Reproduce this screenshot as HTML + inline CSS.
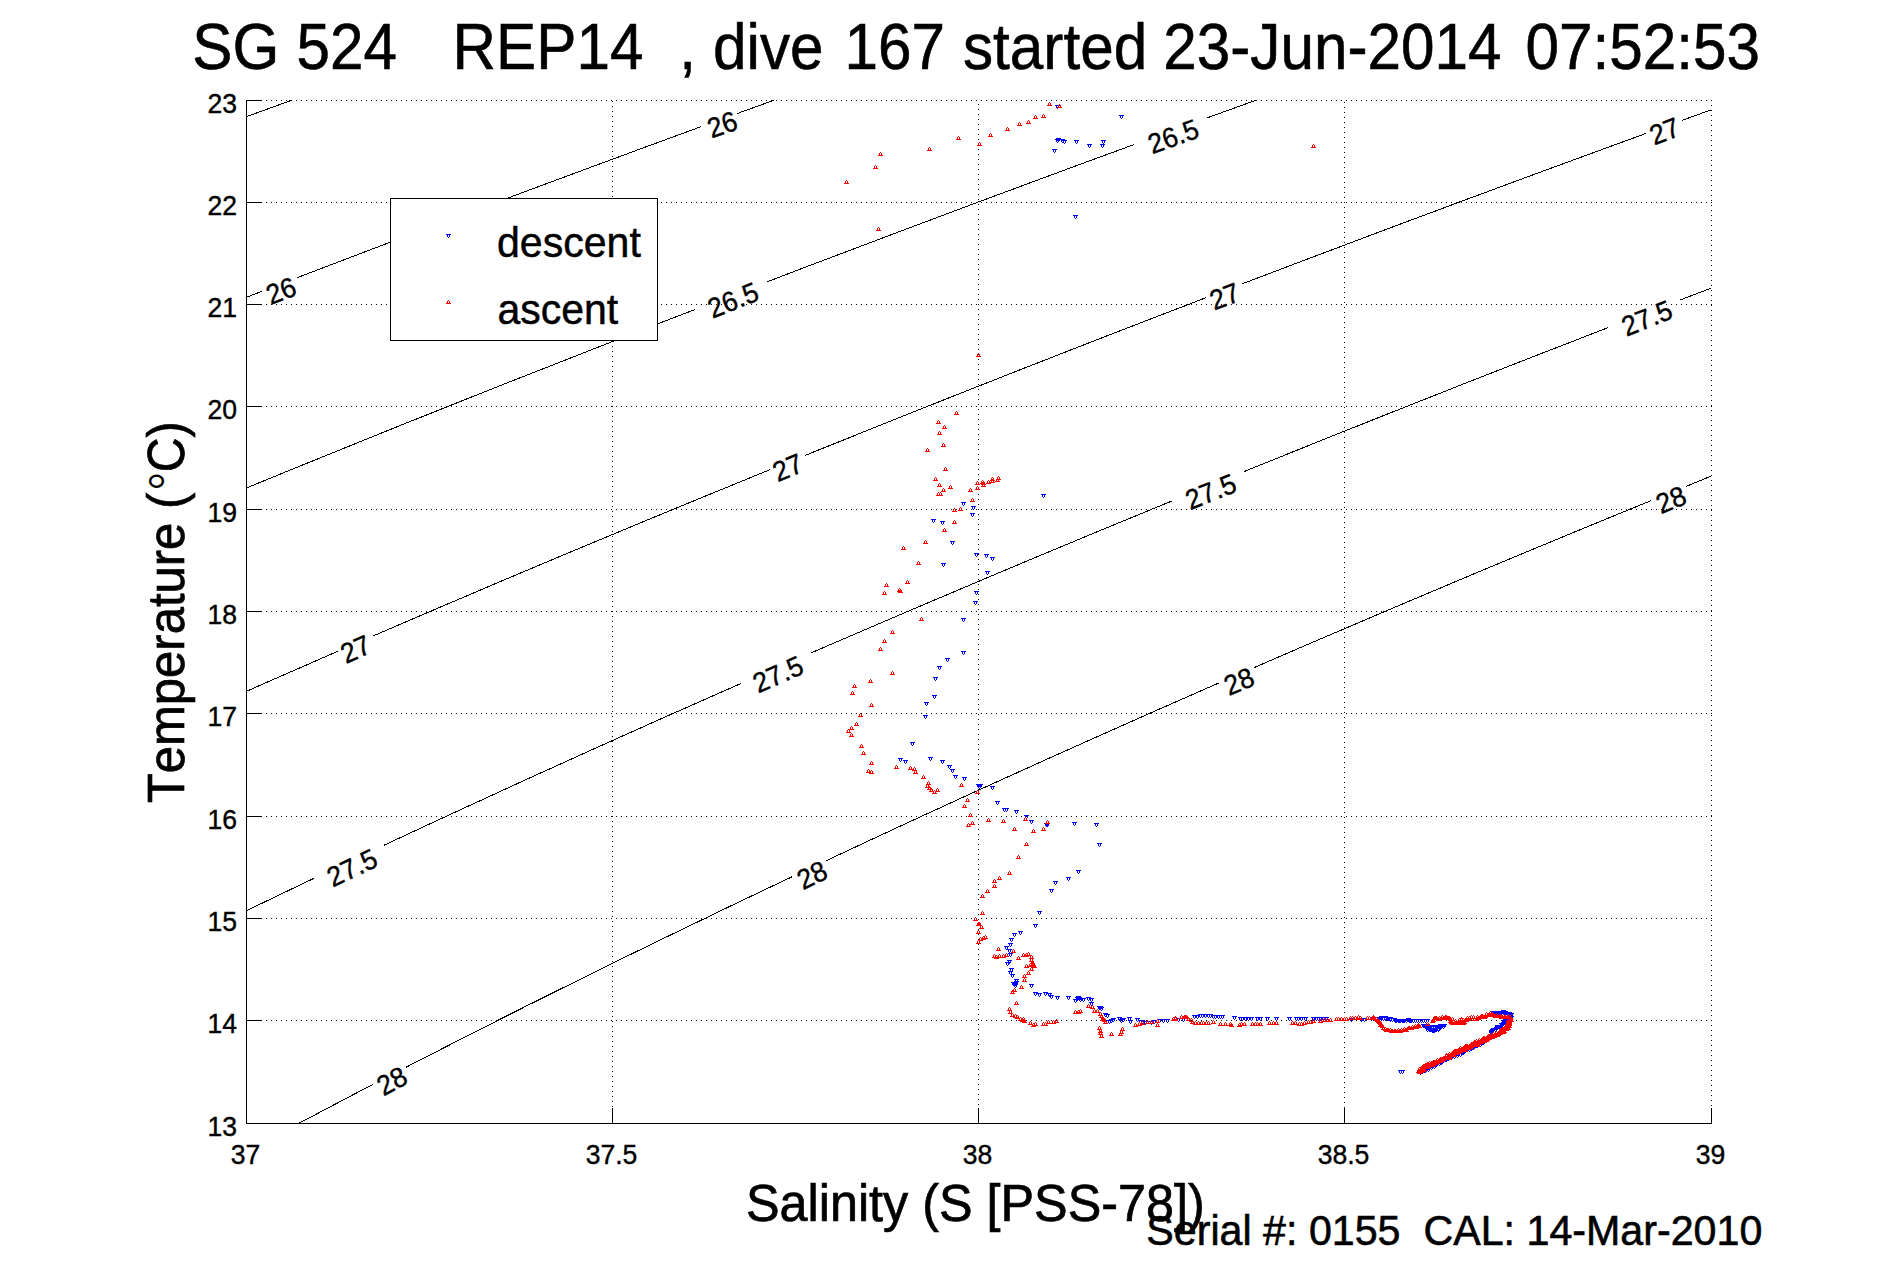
<!DOCTYPE html><html><head><meta charset="utf-8"><title>SG 524 REP14 dive 167</title>
<style>html,body{margin:0;padding:0;background:#fff;overflow:hidden}svg{display:block}text{font-family:"Liberation Sans",sans-serif;fill:#000;font-kerning:none;font-variant-ligatures:none}</style></head><body>
<svg width="1891" height="1262" viewBox="0 0 1891 1262">
<rect width="1891" height="1262" fill="#fff"/>
<defs>
<g id="d" shape-rendering="crispEdges" fill="#00f"><rect width="5" height="1"/><rect x="1" y="1" width="1" height="2"/><rect x="3" y="1" width="1" height="2"/><rect x="2" y="3" width="1" height="1"/></g>
<g id="u" shape-rendering="crispEdges" fill="#f00"><rect y="3" width="5" height="1"/><rect x="1" y="1" width="1" height="2"/><rect x="3" y="1" width="1" height="2"/><rect x="2" y="0" width="1" height="1"/></g>
</defs>
<g stroke="#000" stroke-width="1" shape-rendering="crispEdges" fill="none">
<path id="hg" d="M246 0.5h1m4 0h1m4 0h1m4 0h1m4 0h1m4 0h1m4 0h1m4 0h1m4 0h1m4 0h1m4 0h1m4 0h1m4 0h1m4 0h1m4 0h1m4 0h1m4 0h1m4 0h1m4 0h1m4 0h1m4 0h1m4 0h1m4 0h1m4 0h1m4 0h1m4 0h1m4 0h1m4 0h1m4 0h1m4 0h1m4 0h1m4 0h1m4 0h1m4 0h1m4 0h1m4 0h1m4 0h1m4 0h1m4 0h1m4 0h1m4 0h1m4 0h1m4 0h1m4 0h1m4 0h1m4 0h1m4 0h1m4 0h1m4 0h1m4 0h1m4 0h1m4 0h1m4 0h1m4 0h1m4 0h1m4 0h1m4 0h1m4 0h1m4 0h1m4 0h1m4 0h1m4 0h1m4 0h1m4 0h1m4 0h1m4 0h1m4 0h1m4 0h1m4 0h1m4 0h1m4 0h1m4 0h1m4 0h1m4 0h1m4 0h1m4 0h1m4 0h1m4 0h1m4 0h1m4 0h1m4 0h1m4 0h1m4 0h1m4 0h1m4 0h1m4 0h1m4 0h1m4 0h1m4 0h1m4 0h1m4 0h1m4 0h1m4 0h1m4 0h1m4 0h1m4 0h1m4 0h1m4 0h1m4 0h1m4 0h1m4 0h1m4 0h1m4 0h1m4 0h1m4 0h1m4 0h1m4 0h1m4 0h1m4 0h1m4 0h1m4 0h1m4 0h1m4 0h1m4 0h1m4 0h1m4 0h1m4 0h1m4 0h1m4 0h1m4 0h1m4 0h1m4 0h1m4 0h1m4 0h1m4 0h1m4 0h1m4 0h1m4 0h1m4 0h1m4 0h1m4 0h1m4 0h1m4 0h1m4 0h1m4 0h1m4 0h1m4 0h1m4 0h1m4 0h1m4 0h1m4 0h1m4 0h1m4 0h1m4 0h1m4 0h1m4 0h1m4 0h1m4 0h1m4 0h1m4 0h1m4 0h1m4 0h1m4 0h1m4 0h1m4 0h1m4 0h1m4 0h1m4 0h1m4 0h1m4 0h1m4 0h1m4 0h1m4 0h1m4 0h1m4 0h1m4 0h1m4 0h1m4 0h1m4 0h1m4 0h1m4 0h1m4 0h1m4 0h1m4 0h1m4 0h1m4 0h1m4 0h1m4 0h1m4 0h1m4 0h1m4 0h1m4 0h1m4 0h1m4 0h1m4 0h1m4 0h1m4 0h1m4 0h1m4 0h1m4 0h1m4 0h1m4 0h1m4 0h1m4 0h1m4 0h1m4 0h1m4 0h1m4 0h1m4 0h1m4 0h1m4 0h1m4 0h1m4 0h1m4 0h1m4 0h1m4 0h1m4 0h1m4 0h1m4 0h1m4 0h1m4 0h1m4 0h1m4 0h1m4 0h1m4 0h1m4 0h1m4 0h1m4 0h1m4 0h1m4 0h1m4 0h1m4 0h1m4 0h1m4 0h1m4 0h1m4 0h1m4 0h1m4 0h1m4 0h1m4 0h1m4 0h1m4 0h1m4 0h1m4 0h1m4 0h1m4 0h1m4 0h1m4 0h1m4 0h1m4 0h1m4 0h1m4 0h1m4 0h1m4 0h1m4 0h1m4 0h1m4 0h1m4 0h1m4 0h1m4 0h1m4 0h1m4 0h1m4 0h1m4 0h1m4 0h1m4 0h1m4 0h1m4 0h1m4 0h1m4 0h1m4 0h1m4 0h1m4 0h1m4 0h1m4 0h1m4 0h1m4 0h1m4 0h1m4 0h1m4 0h1m4 0h1m4 0h1m4 0h1m4 0h1m4 0h1m4 0h1m4 0h1m4 0h1m4 0h1m4 0h1m4 0h1m4 0h1m4 0h1m4 0h1m4 0h1m4 0h1m4 0h1m4 0h1m4 0h1m4 0h1m4 0h1m4 0h1m4 0h1m4 0h1m4 0" transform="translate(0 100)"/>
<use href="#hg" y="920"/>
<use href="#hg" y="818"/>
<use href="#hg" y="716"/>
<use href="#hg" y="613"/>
<use href="#hg" y="511"/>
<use href="#hg" y="409"/>
<use href="#hg" y="306"/>
<use href="#hg" y="204"/>
<use href="#hg" y="102"/>
<path id="vg" d="M0.5 0v1m0 4v1m0 4v1m0 4v1m0 4v1m0 4v1m0 4v1m0 4v1m0 4v1m0 4v1m0 4v1m0 4v1m0 4v1m0 4v1m0 4v1m0 4v1m0 4v1m0 4v1m0 4v1m0 4v1m0 4v1m0 4v1m0 4v1m0 4v1m0 4v1m0 4v1m0 4v1m0 4v1m0 4v1m0 4v1m0 4v1m0 4v1m0 4v1m0 4v1m0 4v1m0 4v1m0 4v1m0 4v1m0 4v1m0 4v1m0 4v1m0 4v1m0 4v1m0 4v1m0 4v1m0 4v1m0 4v1m0 4v1m0 4v1m0 4v1m0 4v1m0 4v1m0 4v1m0 4v1m0 4v1m0 4v1m0 4v1m0 4v1m0 4v1m0 4v1m0 4v1m0 4v1m0 4v1m0 4v1m0 4v1m0 4v1m0 4v1m0 4v1m0 4v1m0 4v1m0 4v1m0 4v1m0 4v1m0 4v1m0 4v1m0 4v1m0 4v1m0 4v1m0 4v1m0 4v1m0 4v1m0 4v1m0 4v1m0 4v1m0 4v1m0 4v1m0 4v1m0 4v1m0 4v1m0 4v1m0 4v1m0 4v1m0 4v1m0 4v1m0 4v1m0 4v1m0 4v1m0 4v1m0 4v1m0 4v1m0 4v1m0 4v1m0 4v1m0 4v1m0 4v1m0 4v1m0 4v1m0 4v1m0 4v1m0 4v1m0 4v1m0 4v1m0 4v1m0 4v1m0 4v1m0 4v1m0 4v1m0 4v1m0 4v1m0 4v1m0 4v1m0 4v1m0 4v1m0 4v1m0 4v1m0 4v1m0 4v1m0 4v1m0 4v1m0 4v1m0 4v1m0 4v1m0 4v1m0 4v1m0 4v1m0 4v1m0 4v1m0 4v1m0 4v1m0 4v1m0 4v1m0 4v1m0 4v1m0 4v1m0 4v1m0 4v1m0 4v1m0 4v1m0 4v1m0 4v1m0 4v1m0 4v1m0 4v1m0 4v1m0 4v1m0 4v1m0 4v1m0 4v1m0 4v1m0 4v1m0 4v1m0 4v1m0 4v1m0 4v1m0 4v1m0 4v1m0 4v1m0 4v1m0 4v1m0 4v1m0 4v1m0 4v1m0 4v1m0 4v1m0 4v1m0 4v1m0 4v1m0 4v1m0 4v1m0 4v1m0 4v1m0 4v1m0 4v1m0 4v1m0 4v1m0 4v1m0 4v1m0 4v1m0 4v1m0 4v1m0 4v1m0 4v1m0 4v1m0 4v1m0 4v1m0 4v1m0 4v1m0 4v1m0 4v1m0 4v1m0 4v1m0 4v1m0 4" transform="translate(612 101)"/>
<use href="#vg" x="366" y="3"/>
<use href="#vg" x="732" y="1"/>
<use href="#vg" x="1099" y="-1"/>
<line x1="246.5" y1="100" x2="246.5" y2="1124"/><line x1="246" y1="1123.5" x2="1712" y2="1123.5"/>
<line x1="246" y1="1123.5" x2="262" y2="1123.5"/>
<line x1="246" y1="1020.5" x2="262" y2="1020.5"/>
<line x1="246" y1="918.5" x2="262" y2="918.5"/>
<line x1="246" y1="816.5" x2="262" y2="816.5"/>
<line x1="246" y1="713.5" x2="262" y2="713.5"/>
<line x1="246" y1="611.5" x2="262" y2="611.5"/>
<line x1="246" y1="509.5" x2="262" y2="509.5"/>
<line x1="246" y1="406.5" x2="262" y2="406.5"/>
<line x1="246" y1="304.5" x2="262" y2="304.5"/>
<line x1="246" y1="202.5" x2="262" y2="202.5"/>
<line x1="246" y1="100.5" x2="262" y2="100.5"/>
<line x1="246.5" y1="1108" x2="246.5" y2="1124"/>
<line x1="612.5" y1="1108" x2="612.5" y2="1124"/>
<line x1="978.5" y1="1108" x2="978.5" y2="1124"/>
<line x1="1344.5" y1="1108" x2="1344.5" y2="1124"/>
<line x1="1711.5" y1="1108" x2="1711.5" y2="1124"/>
</g>
<g stroke="#000" stroke-width="1" fill="none" shape-rendering="crispEdges">
<path d="M246.3 116.7 L268.9 108.5 L291.5 100.3"/>
<path d="M246.3 297.3 L261.9 291.3"/>
<path d="M297.1 277.7 L317.3 270.0 L337.5 262.3 L357.7 254.6 L377.9 246.9 L398.1 239.3 L418.3 231.7 L438.5 224.0 L458.7 216.5 L478.9 208.9 L499.1 201.3 L519.2 193.8 L539.4 186.3 L559.6 178.8 L579.8 171.3 L600.0 163.8 L620.2 156.4 L640.4 148.9 L660.6 141.5 L680.8 134.1 L701.0 126.7"/>
<path d="M737.0 113.6 L773.7 100.3"/>
<path d="M246.3 488.0 L266.7 479.7 L287.1 471.3 L307.5 463.0 L327.9 454.8 L348.3 446.5 L368.6 438.3 L389.0 430.0 L409.4 421.8 L429.8 413.7 L450.2 405.5 L470.6 397.4 L491.0 389.3 L511.4 381.2 L531.8 373.2 L552.2 365.2 L572.6 357.2 L592.9 349.2 L613.3 341.2 L633.7 333.3 L654.1 325.3 L674.5 317.4 L694.9 309.6"/>
<path d="M767.2 281.8 L787.6 274.0 L807.9 266.2 L828.3 258.5 L848.7 250.8 L869.1 243.1 L889.4 235.4 L909.8 227.7 L930.2 220.1 L950.6 212.4 L970.9 204.8 L991.3 197.2 L1011.7 189.7 L1032.0 182.1 L1052.4 174.6 L1072.8 167.0 L1093.2 159.5 L1113.5 152.1 L1133.9 144.6"/>
<path d="M1207.3 117.8 L1231.5 109.1 L1255.7 100.3"/>
<path d="M246.3 691.4 L269.1 681.3 L292.0 671.3 L314.9 661.3 L337.7 651.3"/>
<path d="M373.3 635.9 L394.2 626.9 L415.0 617.9 L435.9 609.0 L456.8 600.1 L477.7 591.2 L498.5 582.3 L519.4 573.5 L540.3 564.7 L561.2 555.9 L582.0 547.2 L602.9 538.5 L623.8 529.8 L644.7 521.1 L665.5 512.5 L686.4 503.9 L707.3 495.3 L728.2 486.8 L749.0 478.2 L769.9 469.7"/>
<path d="M805.2 455.4 L825.2 447.3 L845.3 439.3 L865.3 431.2 L885.4 423.2 L905.4 415.2 L925.4 407.2 L945.5 399.2 L965.5 391.3 L985.6 383.4 L1005.6 375.5 L1025.6 367.6 L1045.7 359.8 L1065.7 351.9 L1085.8 344.1 L1105.8 336.3 L1125.8 328.6 L1145.9 320.8 L1165.9 313.1 L1186.0 305.4 L1206.0 297.7"/>
<path d="M1242.2 283.8 L1262.4 276.2 L1282.6 268.5 L1302.8 260.8 L1323.0 253.2 L1343.2 245.6 L1363.3 238.0 L1383.5 230.4 L1403.7 222.8 L1423.9 215.3 L1444.1 207.8 L1464.3 200.2 L1484.5 192.8 L1504.7 185.3 L1524.9 177.8 L1545.0 170.4 L1565.2 163.0 L1585.4 155.6 L1605.6 148.2 L1625.8 140.8 L1646.0 133.4"/>
<path d="M1682.2 120.3 L1711.3 109.8"/>
<path d="M246.3 910.8 L268.9 899.9 L291.4 889.1 L314.0 878.3"/>
<path d="M384.1 845.2 L405.1 835.4 L426.1 825.6 L447.1 815.9 L468.1 806.2 L489.1 796.6 L510.1 786.9 L531.1 777.3 L552.1 767.8 L573.0 758.3 L594.0 748.8 L615.0 739.4 L636.0 730.0 L657.0 720.6 L678.0 711.3 L699.0 702.0 L720.0 692.7 L741.0 683.5"/>
<path d="M811.0 653.0 L831.0 644.3 L851.1 635.7 L871.1 627.1 L891.2 618.5 L911.2 609.9 L931.3 601.4 L951.4 592.9 L971.4 584.4 L991.5 575.9 L1011.5 567.5 L1031.5 559.1 L1051.6 550.7 L1071.7 542.4 L1091.7 534.0 L1111.8 525.7 L1131.8 517.5 L1151.9 509.2 L1171.9 501.0"/>
<path d="M1244.0 471.6 L1264.2 463.4 L1284.4 455.3 L1304.7 447.1 L1324.9 439.0 L1345.1 430.9 L1365.3 422.9 L1385.5 414.8 L1405.7 406.8 L1426.0 398.8 L1446.2 390.8 L1466.4 382.8 L1486.6 374.9 L1506.8 367.0 L1527.0 359.1 L1547.2 351.2 L1567.5 343.4 L1587.7 335.5 L1607.9 327.7"/>
<path d="M1680.0 300.0 L1711.3 288.1"/>
<path d="M298.9 1123.3 L323.6 1110.3 L348.2 1097.3 L372.9 1084.4"/>
<path d="M405.9 1067.3 L426.2 1056.9 L446.5 1046.5 L466.9 1036.1 L487.2 1025.8 L507.5 1015.5 L527.8 1005.3 L548.1 995.2 L568.5 985.1 L588.8 975.0 L609.1 965.0 L629.4 955.0 L649.8 945.1 L670.1 935.2 L690.4 925.4 L710.7 915.6 L731.0 905.8 L751.4 896.1 L771.7 886.4 L792.0 876.8"/>
<path d="M826.0 860.8 L846.7 851.1 L867.4 841.4 L888.1 831.8 L908.7 822.2 L929.4 812.7 L950.1 803.2 L970.8 793.7 L991.5 784.3 L1012.2 774.9 L1032.8 765.6 L1053.5 756.2 L1074.2 747.0 L1094.9 737.7 L1115.6 728.5 L1136.3 719.3 L1156.9 710.2 L1177.6 701.1 L1198.3 692.0 L1219.0 682.9"/>
<path d="M1254.2 667.6 L1275.1 658.5 L1295.9 649.5 L1316.8 640.5 L1337.7 631.6 L1358.6 622.7 L1379.4 613.8 L1400.3 604.9 L1421.2 596.1 L1442.1 587.3 L1462.9 578.5 L1483.8 569.7 L1504.7 561.0 L1525.6 552.3 L1546.4 543.7 L1567.3 535.0 L1588.2 526.4 L1609.1 517.8 L1629.9 509.3 L1650.8 500.7"/>
<path d="M1686.0 486.4 L1711.3 476.1"/>
</g>
<text transform="translate(280.9 290.6) rotate(-21.1) scale(0.950 1)" font-size="28.0" text-anchor="middle" y="9.8" stroke="#000" stroke-width="0.40" xml:space="preserve">26</text>
<text transform="translate(722.2 124.4) rotate(-19.4) scale(0.950 1)" font-size="28.0" text-anchor="middle" y="9.8" stroke="#000" stroke-width="0.40" xml:space="preserve">26</text>
<text transform="translate(733.0 300.0) rotate(-21.6) scale(0.950 1)" font-size="28.0" text-anchor="middle" y="9.8" stroke="#000" stroke-width="0.40" xml:space="preserve">26.5</text>
<text transform="translate(1173.3 136.2) rotate(-19.9) scale(0.950 1)" font-size="28.0" text-anchor="middle" y="9.8" stroke="#000" stroke-width="0.40" xml:space="preserve">26.5</text>
<text transform="translate(355.5 649.0) rotate(-23.9) scale(0.950 1)" font-size="28.0" text-anchor="middle" y="9.8" stroke="#000" stroke-width="0.40" xml:space="preserve">27</text>
<text transform="translate(787.7 467.5) rotate(-22.6) scale(0.950 1)" font-size="28.0" text-anchor="middle" y="9.8" stroke="#000" stroke-width="0.40" xml:space="preserve">27</text>
<text transform="translate(1224.6 296.2) rotate(-20.5) scale(0.950 1)" font-size="28.0" text-anchor="middle" y="9.8" stroke="#000" stroke-width="0.40" xml:space="preserve">27</text>
<text transform="translate(1664.6 131.1) rotate(-20.9) scale(0.950 1)" font-size="28.0" text-anchor="middle" y="9.8" stroke="#000" stroke-width="0.40" xml:space="preserve">27</text>
<text transform="translate(352.0 867.7) rotate(-25.2) scale(0.950 1)" font-size="28.0" text-anchor="middle" y="9.8" stroke="#000" stroke-width="0.40" xml:space="preserve">27.5</text>
<text transform="translate(778.0 674.2) rotate(-23.7) scale(0.950 1)" font-size="28.0" text-anchor="middle" y="9.8" stroke="#000" stroke-width="0.40" xml:space="preserve">27.5</text>
<text transform="translate(1210.8 491.5) rotate(-21.6) scale(0.950 1)" font-size="28.0" text-anchor="middle" y="9.8" stroke="#000" stroke-width="0.40" xml:space="preserve">27.5</text>
<text transform="translate(1646.9 318.1) rotate(-21.8) scale(0.950 1)" font-size="28.0" text-anchor="middle" y="9.8" stroke="#000" stroke-width="0.40" xml:space="preserve">27.5</text>
<text transform="translate(391.9 1080.9) rotate(-28.3) scale(0.950 1)" font-size="28.0" text-anchor="middle" y="9.8" stroke="#000" stroke-width="0.40" xml:space="preserve">28</text>
<text transform="translate(811.9 874.9) rotate(-25.9) scale(0.950 1)" font-size="28.0" text-anchor="middle" y="9.8" stroke="#000" stroke-width="0.40" xml:space="preserve">28</text>
<text transform="translate(1238.9 681.2) rotate(-22.5) scale(0.950 1)" font-size="28.0" text-anchor="middle" y="9.8" stroke="#000" stroke-width="0.40" xml:space="preserve">28</text>
<text transform="translate(1671.0 499.6) rotate(-22.5) scale(0.950 1)" font-size="28.0" text-anchor="middle" y="9.8" stroke="#000" stroke-width="0.40" xml:space="preserve">28</text>
<g><use href="#d" x="1055" y="105"/><use href="#d" x="1119" y="115"/><use href="#d" x="1052" y="149"/><use href="#d" x="1056" y="138"/><use href="#d" x="1055" y="139"/><use href="#d" x="1060" y="139"/><use href="#d" x="1062" y="140"/><use href="#d" x="1074" y="140"/><use href="#d" x="1087" y="144"/><use href="#d" x="1100" y="144"/><use href="#d" x="1101" y="140"/><use href="#d" x="1073" y="215"/><use href="#d" x="1041" y="494"/><use href="#d" x="961" y="502"/><use href="#d" x="971" y="506"/><use href="#d" x="970" y="513"/><use href="#d" x="931" y="519"/><use href="#d" x="940" y="521"/><use href="#d" x="950" y="541"/><use href="#d" x="974" y="553"/><use href="#d" x="984" y="554"/><use href="#d" x="990" y="557"/><use href="#d" x="941" y="563"/><use href="#d" x="985" y="571"/><use href="#d" x="974" y="591"/><use href="#d" x="973" y="601"/><use href="#d" x="961" y="618"/><use href="#d" x="961" y="651"/><use href="#d" x="945" y="658"/><use href="#d" x="937" y="666"/><use href="#d" x="933" y="677"/><use href="#d" x="932" y="695"/><use href="#d" x="924" y="702"/><use href="#d" x="923" y="715"/><use href="#d" x="910" y="742"/><use href="#d" x="898" y="758"/><use href="#d" x="903" y="760"/><use href="#d" x="928" y="757"/><use href="#d" x="940" y="760"/><use href="#d" x="947" y="765"/><use href="#d" x="950" y="769"/><use href="#d" x="953" y="775"/><use href="#d" x="962" y="777"/><use href="#d" x="977" y="785"/><use href="#d" x="976" y="784"/><use href="#d" x="978" y="784"/><use href="#d" x="990" y="786"/><use href="#d" x="995" y="801"/><use href="#d" x="1002" y="808"/><use href="#d" x="1004" y="808"/><use href="#d" x="1014" y="810"/><use href="#d" x="1024" y="815"/><use href="#d" x="1029" y="820"/><use href="#d" x="1045" y="823"/><use href="#d" x="1044" y="823"/><use href="#d" x="1072" y="822"/><use href="#d" x="1094" y="823"/><use href="#d" x="1097" y="843"/><use href="#d" x="1076" y="870"/><use href="#d" x="1066" y="877"/><use href="#d" x="1053" y="881"/><use href="#d" x="1049" y="889"/><use href="#d" x="1037" y="911"/><use href="#d" x="1033" y="924"/><use href="#d" x="1018" y="931"/><use href="#d" x="1012" y="933"/><use href="#d" x="1009" y="938"/><use href="#d" x="1008" y="943"/><use href="#d" x="1004" y="946"/><use href="#d" x="1007" y="949"/><use href="#d" x="1008" y="953"/><use href="#d" x="1007" y="960"/><use href="#d" x="1005" y="962"/><use href="#d" x="1009" y="968"/><use href="#d" x="1008" y="971"/><use href="#d" x="1010" y="974"/><use href="#d" x="1014" y="979"/><use href="#d" x="1012" y="983"/><use href="#d" x="1011" y="982"/><use href="#d" x="1013" y="984"/><use href="#d" x="1014" y="981"/><use href="#d" x="1029" y="984"/><use href="#d" x="1033" y="992"/><use href="#d" x="1037" y="993"/><use href="#d" x="1043" y="992"/><use href="#d" x="1047" y="993"/><use href="#d" x="1049" y="995"/><use href="#d" x="1055" y="996"/><use href="#d" x="1066" y="996"/><use href="#d" x="1073" y="999"/><use href="#d" x="1076" y="996"/><use href="#d" x="1075" y="997"/><use href="#d" x="1077" y="997"/><use href="#d" x="1078" y="998"/><use href="#d" x="1081" y="998"/><use href="#d" x="1086" y="997"/><use href="#d" x="1089" y="998"/><use href="#d" x="1089" y="1002"/><use href="#d" x="1097" y="1006"/><use href="#d" x="1098" y="1006"/><use href="#d" x="1099" y="1007"/><use href="#d" x="1103" y="1013"/><use href="#d" x="1105" y="1014"/><use href="#d" x="1107" y="1020"/><use href="#d" x="1109" y="1019"/><use href="#d" x="1111" y="1018"/><use href="#d" x="1117" y="1017"/><use href="#d" x="1119" y="1019"/><use href="#d" x="1121" y="1018"/><use href="#d" x="1127" y="1017"/><use href="#d" x="1128" y="1020"/><use href="#d" x="1135" y="1018"/><use href="#d" x="1138" y="1020"/><use href="#d" x="1140" y="1020"/><use href="#d" x="1143" y="1021"/><use href="#d" x="1149" y="1021"/><use href="#d" x="1152" y="1020"/><use href="#d" x="1157" y="1019"/><use href="#d" x="1161" y="1019"/><use href="#d" x="1165" y="1019"/><use href="#d" x="1176" y="1018"/><use href="#d" x="1181" y="1018"/><use href="#d" x="1192" y="1015"/><use href="#d" x="1195" y="1015"/><use href="#d" x="1198" y="1014"/><use href="#d" x="1200" y="1014"/><use href="#d" x="1203" y="1014"/><use href="#d" x="1206" y="1014"/><use href="#d" x="1208" y="1014"/><use href="#d" x="1211" y="1015"/><use href="#d" x="1213" y="1015"/><use href="#d" x="1216" y="1015"/><use href="#d" x="1218" y="1015"/><use href="#d" x="1220" y="1015"/><use href="#d" x="1232" y="1016"/><use href="#d" x="1238" y="1017"/><use href="#d" x="1240" y="1017"/><use href="#d" x="1243" y="1017"/><use href="#d" x="1246" y="1017"/><use href="#d" x="1249" y="1017"/><use href="#d" x="1255" y="1017"/><use href="#d" x="1258" y="1017"/><use href="#d" x="1265" y="1017"/><use href="#d" x="1274" y="1017"/><use href="#d" x="1287" y="1017"/><use href="#d" x="1294" y="1017"/><use href="#d" x="1296" y="1017"/><use href="#d" x="1299" y="1017"/><use href="#d" x="1303" y="1017"/><use href="#d" x="1311" y="1017"/><use href="#d" x="1314" y="1017"/><use href="#d" x="1316" y="1017"/><use href="#d" x="1318" y="1017"/><use href="#d" x="1321" y="1017"/><use href="#d" x="1324" y="1017"/><use href="#d" x="1349" y="1018"/><use href="#d" x="1359" y="1018"/><use href="#d" x="1362" y="1018"/><use href="#d" x="1371" y="1017"/><use href="#d" x="1378" y="1018"/><use href="#d" x="1383" y="1017"/><use href="#d" x="1385" y="1017"/><use href="#d" x="1388" y="1018"/><use href="#d" x="1393" y="1019"/><use href="#d" x="1397" y="1019"/><use href="#d" x="1401" y="1019"/><use href="#d" x="1404" y="1019"/><use href="#d" x="1407" y="1019"/><use href="#d" x="1398" y="1070"/><use href="#d" x="1400" y="1070"/><use href="#d" x="1377" y="1017"/><use href="#d" x="1379" y="1016"/><use href="#d" x="1381" y="1017"/><use href="#d" x="1383" y="1016"/><use href="#d" x="1386" y="1017"/><use href="#d" x="1388" y="1017"/><use href="#d" x="1390" y="1018"/><use href="#d" x="1392" y="1018"/><use href="#d" x="1394" y="1019"/><use href="#d" x="1396" y="1019"/><use href="#d" x="1398" y="1019"/><use href="#d" x="1400" y="1019"/><use href="#d" x="1402" y="1019"/><use href="#d" x="1406" y="1018"/><use href="#d" x="1408" y="1019"/><use href="#d" x="1409" y="1019"/><use href="#d" x="1411" y="1019"/><use href="#d" x="1413" y="1019"/><use href="#d" x="1415" y="1019"/><use href="#d" x="1417" y="1019"/><use href="#d" x="1419" y="1019"/><use href="#d" x="1421" y="1019"/><use href="#d" x="1423" y="1019"/><use href="#d" x="1425" y="1019"/><use href="#d" x="1421" y="1024"/><use href="#d" x="1422" y="1024"/><use href="#d" x="1423" y="1024"/><use href="#d" x="1424" y="1025"/><use href="#d" x="1425" y="1024"/><use href="#d" x="1426" y="1025"/><use href="#d" x="1428" y="1026"/><use href="#d" x="1428" y="1025"/><use href="#d" x="1430" y="1026"/><use href="#d" x="1430" y="1025"/><use href="#d" x="1432" y="1026"/><use href="#d" x="1434" y="1026"/><use href="#d" x="1435" y="1026"/><use href="#d" x="1435" y="1025"/><use href="#d" x="1437" y="1025"/><use href="#d" x="1438" y="1026"/><use href="#d" x="1438" y="1024"/><use href="#d" x="1439" y="1024"/><use href="#d" x="1441" y="1025"/><use href="#d" x="1442" y="1024"/><use href="#d" x="1425" y="1028"/><use href="#d" x="1426" y="1027"/><use href="#d" x="1427" y="1028"/><use href="#d" x="1428" y="1028"/><use href="#d" x="1430" y="1028"/><use href="#d" x="1430" y="1029"/><use href="#d" x="1431" y="1029"/><use href="#d" x="1432" y="1029"/><use href="#d" x="1433" y="1028"/><use href="#d" x="1434" y="1028"/><use href="#d" x="1436" y="1028"/><use href="#d" x="1436" y="1027"/><use href="#d" x="1490" y="1011"/><use href="#d" x="1492" y="1011"/><use href="#d" x="1493" y="1011"/><use href="#d" x="1494" y="1011"/><use href="#d" x="1496" y="1011"/><use href="#d" x="1497" y="1011"/><use href="#d" x="1498" y="1011"/><use href="#d" x="1499" y="1011"/><use href="#d" x="1501" y="1010"/><use href="#d" x="1502" y="1011"/><use href="#d" x="1503" y="1011"/><use href="#d" x="1505" y="1012"/><use href="#d" x="1506" y="1012"/><use href="#d" x="1507" y="1012"/><use href="#d" x="1508" y="1013"/><use href="#d" x="1509" y="1013"/><use href="#d" x="1509" y="1016"/><use href="#d" x="1507" y="1015"/><use href="#d" x="1507" y="1017"/><use href="#d" x="1505" y="1018"/><use href="#d" x="1505" y="1019"/><use href="#d" x="1503" y="1019"/><use href="#d" x="1502" y="1020"/><use href="#d" x="1502" y="1021"/><use href="#d" x="1501" y="1022"/><use href="#d" x="1500" y="1023"/><use href="#d" x="1499" y="1023"/><use href="#d" x="1498" y="1025"/><use href="#d" x="1497" y="1025"/><use href="#d" x="1495" y="1025"/><use href="#d" x="1495" y="1026"/><use href="#d" x="1494" y="1027"/><use href="#d" x="1493" y="1028"/><use href="#d" x="1491" y="1028"/><use href="#d" x="1490" y="1029"/><use href="#d" x="1489" y="1030"/><use href="#d" x="1489" y="1031"/><use href="#d" x="1489" y="1032"/><use href="#d" x="1489" y="1034"/><use href="#d" x="1488" y="1035"/><use href="#d" x="1488" y="1036"/><use href="#d" x="1486" y="1037"/><use href="#d" x="1485" y="1038"/><use href="#d" x="1484" y="1039"/><use href="#d" x="1482" y="1039"/><use href="#d" x="1482" y="1040"/><use href="#d" x="1481" y="1041"/><use href="#d" x="1479" y="1041"/><use href="#d" x="1479" y="1042"/><use href="#d" x="1478" y="1043"/><use href="#d" x="1476" y="1042"/><use href="#d" x="1475" y="1044"/><use href="#d" x="1474" y="1044"/><use href="#d" x="1473" y="1044"/><use href="#d" x="1472" y="1045"/><use href="#d" x="1471" y="1046"/><use href="#d" x="1470" y="1046"/><use href="#d" x="1469" y="1047"/><use href="#d" x="1468" y="1047"/><use href="#d" x="1467" y="1048"/><use href="#d" x="1465" y="1048"/><use href="#d" x="1464" y="1048"/><use href="#d" x="1463" y="1049"/><use href="#d" x="1462" y="1050"/><use href="#d" x="1461" y="1051"/><use href="#d" x="1460" y="1051"/><use href="#d" x="1459" y="1051"/><use href="#d" x="1458" y="1053"/><use href="#d" x="1456" y="1052"/><use href="#d" x="1455" y="1052"/><use href="#d" x="1455" y="1054"/><use href="#d" x="1453" y="1053"/><use href="#d" x="1452" y="1055"/><use href="#d" x="1451" y="1054"/><use href="#d" x="1450" y="1055"/><use href="#d" x="1449" y="1056"/><use href="#d" x="1447" y="1056"/><use href="#d" x="1446" y="1057"/><use href="#d" x="1445" y="1057"/><use href="#d" x="1444" y="1058"/><use href="#d" x="1443" y="1058"/><use href="#d" x="1442" y="1058"/><use href="#d" x="1441" y="1059"/><use href="#d" x="1440" y="1060"/><use href="#d" x="1439" y="1061"/><use href="#d" x="1438" y="1061"/><use href="#d" x="1437" y="1062"/><use href="#d" x="1435" y="1062"/><use href="#d" x="1434" y="1063"/><use href="#d" x="1433" y="1063"/><use href="#d" x="1432" y="1065"/><use href="#d" x="1431" y="1064"/><use href="#d" x="1430" y="1065"/><use href="#d" x="1429" y="1066"/><use href="#d" x="1427" y="1065"/><use href="#d" x="1426" y="1066"/><use href="#d" x="1426" y="1068"/><use href="#d" x="1424" y="1067"/><use href="#d" x="1423" y="1069"/><use href="#d" x="1422" y="1069"/><use href="#d" x="1421" y="1069"/><use href="#d" x="1420" y="1070"/><use href="#d" x="1418" y="1071"/></g>
<g><use href="#u" x="844" y="180"/><use href="#u" x="873" y="165"/><use href="#u" x="878" y="152"/><use href="#u" x="876" y="227"/><use href="#u" x="927" y="147"/><use href="#u" x="956" y="136"/><use href="#u" x="977" y="142"/><use href="#u" x="988" y="133"/><use href="#u" x="1005" y="127"/><use href="#u" x="1017" y="122"/><use href="#u" x="1026" y="120"/><use href="#u" x="1033" y="115"/><use href="#u" x="1041" y="114"/><use href="#u" x="1047" y="102"/><use href="#u" x="1057" y="104"/><use href="#u" x="1311" y="144"/><use href="#u" x="976" y="353"/><use href="#u" x="954" y="411"/><use href="#u" x="936" y="420"/><use href="#u" x="942" y="425"/><use href="#u" x="937" y="431"/><use href="#u" x="941" y="443"/><use href="#u" x="925" y="448"/><use href="#u" x="943" y="467"/><use href="#u" x="933" y="477"/><use href="#u" x="937" y="483"/><use href="#u" x="948" y="485"/><use href="#u" x="941" y="488"/><use href="#u" x="936" y="492"/><use href="#u" x="938" y="492"/><use href="#u" x="968" y="488"/><use href="#u" x="975" y="486"/><use href="#u" x="975" y="481"/><use href="#u" x="981" y="481"/><use href="#u" x="980" y="480"/><use href="#u" x="981" y="483"/><use href="#u" x="986" y="480"/><use href="#u" x="990" y="477"/><use href="#u" x="990" y="479"/><use href="#u" x="995" y="478"/><use href="#u" x="996" y="476"/><use href="#u" x="970" y="498"/><use href="#u" x="958" y="507"/><use href="#u" x="952" y="508"/><use href="#u" x="952" y="520"/><use href="#u" x="942" y="528"/><use href="#u" x="923" y="540"/><use href="#u" x="901" y="546"/><use href="#u" x="916" y="561"/><use href="#u" x="905" y="580"/><use href="#u" x="884" y="583"/><use href="#u" x="882" y="591"/><use href="#u" x="897" y="588"/><use href="#u" x="898" y="589"/><use href="#u" x="919" y="617"/><use href="#u" x="890" y="630"/><use href="#u" x="882" y="639"/><use href="#u" x="878" y="647"/><use href="#u" x="890" y="671"/><use href="#u" x="868" y="679"/><use href="#u" x="852" y="684"/><use href="#u" x="850" y="691"/><use href="#u" x="869" y="703"/><use href="#u" x="858" y="713"/><use href="#u" x="854" y="722"/><use href="#u" x="849" y="726"/><use href="#u" x="846" y="729"/><use href="#u" x="849" y="733"/><use href="#u" x="859" y="744"/><use href="#u" x="861" y="751"/><use href="#u" x="869" y="761"/><use href="#u" x="866" y="769"/><use href="#u" x="869" y="770"/><use href="#u" x="894" y="765"/><use href="#u" x="908" y="766"/><use href="#u" x="912" y="767"/><use href="#u" x="913" y="770"/><use href="#u" x="921" y="775"/><use href="#u" x="926" y="781"/><use href="#u" x="925" y="784"/><use href="#u" x="927" y="786"/><use href="#u" x="929" y="788"/><use href="#u" x="932" y="790"/><use href="#u" x="935" y="788"/><use href="#u" x="959" y="783"/><use href="#u" x="975" y="790"/><use href="#u" x="965" y="798"/><use href="#u" x="962" y="804"/><use href="#u" x="968" y="813"/><use href="#u" x="970" y="821"/><use href="#u" x="966" y="823"/><use href="#u" x="986" y="818"/><use href="#u" x="1001" y="819"/><use href="#u" x="1012" y="827"/><use href="#u" x="1023" y="817"/><use href="#u" x="1031" y="829"/><use href="#u" x="1041" y="827"/><use href="#u" x="1045" y="820"/><use href="#u" x="1024" y="842"/><use href="#u" x="1016" y="855"/><use href="#u" x="1007" y="871"/><use href="#u" x="997" y="876"/><use href="#u" x="992" y="879"/><use href="#u" x="992" y="884"/><use href="#u" x="985" y="889"/><use href="#u" x="980" y="894"/><use href="#u" x="980" y="911"/><use href="#u" x="973" y="917"/><use href="#u" x="976" y="922"/><use href="#u" x="977" y="922"/><use href="#u" x="979" y="925"/><use href="#u" x="976" y="930"/><use href="#u" x="983" y="935"/><use href="#u" x="981" y="936"/><use href="#u" x="978" y="937"/><use href="#u" x="976" y="940"/><use href="#u" x="996" y="947"/><use href="#u" x="1011" y="949"/><use href="#u" x="992" y="954"/><use href="#u" x="994" y="955"/><use href="#u" x="997" y="954"/><use href="#u" x="1001" y="954"/><use href="#u" x="1004" y="953"/><use href="#u" x="1016" y="956"/><use href="#u" x="1021" y="953"/><use href="#u" x="1024" y="953"/><use href="#u" x="1026" y="952"/><use href="#u" x="1029" y="955"/><use href="#u" x="1029" y="958"/><use href="#u" x="1030" y="960"/><use href="#u" x="1031" y="963"/><use href="#u" x="1030" y="962"/><use href="#u" x="1032" y="964"/><use href="#u" x="1028" y="963"/><use href="#u" x="1024" y="964"/><use href="#u" x="1029" y="967"/><use href="#u" x="1026" y="971"/><use href="#u" x="1022" y="974"/><use href="#u" x="1022" y="978"/><use href="#u" x="1019" y="985"/><use href="#u" x="1012" y="988"/><use href="#u" x="1010" y="990"/><use href="#u" x="1014" y="1001"/><use href="#u" x="1007" y="1007"/><use href="#u" x="1008" y="1010"/><use href="#u" x="1010" y="1013"/><use href="#u" x="1013" y="1014"/><use href="#u" x="1015" y="1015"/><use href="#u" x="1018" y="1017"/><use href="#u" x="1020" y="1018"/><use href="#u" x="1022" y="1019"/><use href="#u" x="1021" y="1017"/><use href="#u" x="1028" y="1021"/><use href="#u" x="1031" y="1023"/><use href="#u" x="1033" y="1022"/><use href="#u" x="1041" y="1022"/><use href="#u" x="1043" y="1022"/><use href="#u" x="1046" y="1020"/><use href="#u" x="1051" y="1020"/><use href="#u" x="1054" y="1019"/><use href="#u" x="1073" y="1010"/><use href="#u" x="1076" y="1010"/><use href="#u" x="1078" y="1009"/><use href="#u" x="1086" y="1004"/><use href="#u" x="1090" y="1005"/><use href="#u" x="1092" y="1009"/><use href="#u" x="1095" y="1009"/><use href="#u" x="1098" y="1012"/><use href="#u" x="1099" y="1014"/><use href="#u" x="1100" y="1017"/><use href="#u" x="1101" y="1017"/><use href="#u" x="1102" y="1018"/><use href="#u" x="1103" y="1020"/><use href="#u" x="1097" y="1026"/><use href="#u" x="1098" y="1029"/><use href="#u" x="1098" y="1031"/><use href="#u" x="1099" y="1034"/><use href="#u" x="1109" y="1032"/><use href="#u" x="1120" y="1027"/><use href="#u" x="1119" y="1030"/><use href="#u" x="1118" y="1032"/><use href="#u" x="1133" y="1023"/><use href="#u" x="1137" y="1022"/><use href="#u" x="1140" y="1021"/><use href="#u" x="1145" y="1020"/><use href="#u" x="1149" y="1020"/><use href="#u" x="1155" y="1019"/><use href="#u" x="1155" y="1023"/><use href="#u" x="1171" y="1017"/><use href="#u" x="1173" y="1016"/><use href="#u" x="1179" y="1015"/><use href="#u" x="1184" y="1015"/><use href="#u" x="1186" y="1017"/><use href="#u" x="1173" y="1017"/><use href="#u" x="1183" y="1015"/><use href="#u" x="1182" y="1015"/><use href="#u" x="1189" y="1018"/><use href="#u" x="1190" y="1020"/><use href="#u" x="1193" y="1021"/><use href="#u" x="1196" y="1021"/><use href="#u" x="1199" y="1021"/><use href="#u" x="1201" y="1021"/><use href="#u" x="1204" y="1021"/><use href="#u" x="1206" y="1021"/><use href="#u" x="1211" y="1020"/><use href="#u" x="1218" y="1022"/><use href="#u" x="1223" y="1022"/><use href="#u" x="1229" y="1023"/><use href="#u" x="1228" y="1022"/><use href="#u" x="1237" y="1023"/><use href="#u" x="1239" y="1022"/><use href="#u" x="1242" y="1022"/><use href="#u" x="1250" y="1022"/><use href="#u" x="1253" y="1022"/><use href="#u" x="1255" y="1022"/><use href="#u" x="1258" y="1022"/><use href="#u" x="1267" y="1021"/><use href="#u" x="1271" y="1021"/><use href="#u" x="1274" y="1021"/><use href="#u" x="1290" y="1021"/><use href="#u" x="1293" y="1021"/><use href="#u" x="1297" y="1022"/><use href="#u" x="1299" y="1022"/><use href="#u" x="1302" y="1021"/><use href="#u" x="1306" y="1020"/><use href="#u" x="1308" y="1020"/><use href="#u" x="1311" y="1019"/><use href="#u" x="1318" y="1019"/><use href="#u" x="1322" y="1018"/><use href="#u" x="1325" y="1018"/><use href="#u" x="1328" y="1018"/><use href="#u" x="1334" y="1017"/><use href="#u" x="1336" y="1017"/><use href="#u" x="1339" y="1017"/><use href="#u" x="1342" y="1017"/><use href="#u" x="1344" y="1017"/><use href="#u" x="1348" y="1016"/><use href="#u" x="1350" y="1016"/><use href="#u" x="1353" y="1016"/><use href="#u" x="1356" y="1015"/><use href="#u" x="1358" y="1016"/><use href="#u" x="1365" y="1016"/><use href="#u" x="1367" y="1016"/><use href="#u" x="1371" y="1016"/><use href="#u" x="1376" y="1019"/><use href="#u" x="1378" y="1023"/><use href="#u" x="1381" y="1026"/><use href="#u" x="1371" y="1015"/><use href="#u" x="1372" y="1016"/><use href="#u" x="1374" y="1017"/><use href="#u" x="1375" y="1018"/><use href="#u" x="1377" y="1020"/><use href="#u" x="1378" y="1021"/><use href="#u" x="1379" y="1023"/><use href="#u" x="1380" y="1024"/><use href="#u" x="1383" y="1027"/><use href="#u" x="1384" y="1028"/><use href="#u" x="1385" y="1028"/><use href="#u" x="1386" y="1028"/><use href="#u" x="1388" y="1028"/><use href="#u" x="1389" y="1029"/><use href="#u" x="1390" y="1029"/><use href="#u" x="1392" y="1029"/><use href="#u" x="1393" y="1029"/><use href="#u" x="1395" y="1029"/><use href="#u" x="1396" y="1028"/><use href="#u" x="1398" y="1029"/><use href="#u" x="1399" y="1028"/><use href="#u" x="1401" y="1028"/><use href="#u" x="1402" y="1027"/><use href="#u" x="1404" y="1028"/><use href="#u" x="1406" y="1026"/><use href="#u" x="1407" y="1026"/><use href="#u" x="1409" y="1026"/><use href="#u" x="1410" y="1025"/><use href="#u" x="1412" y="1025"/><use href="#u" x="1413" y="1024"/><use href="#u" x="1414" y="1025"/><use href="#u" x="1416" y="1024"/><use href="#u" x="1417" y="1024"/><use href="#u" x="1425" y="1022"/><use href="#u" x="1416" y="1023"/><use href="#u" x="1430" y="1019"/><use href="#u" x="1431" y="1018"/><use href="#u" x="1432" y="1016"/><use href="#u" x="1433" y="1016"/><use href="#u" x="1434" y="1016"/><use href="#u" x="1436" y="1017"/><use href="#u" x="1437" y="1016"/><use href="#u" x="1439" y="1016"/><use href="#u" x="1440" y="1015"/><use href="#u" x="1441" y="1016"/><use href="#u" x="1443" y="1015"/><use href="#u" x="1444" y="1015"/><use href="#u" x="1446" y="1016"/><use href="#u" x="1447" y="1016"/><use href="#u" x="1448" y="1017"/><use href="#u" x="1450" y="1017"/><use href="#u" x="1451" y="1019"/><use href="#u" x="1453" y="1019"/><use href="#u" x="1454" y="1020"/><use href="#u" x="1456" y="1020"/><use href="#u" x="1457" y="1018"/><use href="#u" x="1459" y="1018"/><use href="#u" x="1459" y="1017"/><use href="#u" x="1461" y="1018"/><use href="#u" x="1463" y="1018"/><use href="#u" x="1464" y="1018"/><use href="#u" x="1465" y="1016"/><use href="#u" x="1466" y="1017"/><use href="#u" x="1467" y="1016"/><use href="#u" x="1469" y="1015"/><use href="#u" x="1471" y="1015"/><use href="#u" x="1472" y="1017"/><use href="#u" x="1474" y="1017"/><use href="#u" x="1475" y="1015"/><use href="#u" x="1476" y="1016"/><use href="#u" x="1478" y="1015"/><use href="#u" x="1479" y="1014"/><use href="#u" x="1480" y="1014"/><use href="#u" x="1482" y="1015"/><use href="#u" x="1483" y="1014"/><use href="#u" x="1484" y="1012"/><use href="#u" x="1486" y="1013"/><use href="#u" x="1488" y="1011"/><use href="#u" x="1489" y="1012"/><use href="#u" x="1490" y="1012"/><use href="#u" x="1491" y="1013"/><use href="#u" x="1493" y="1014"/><use href="#u" x="1494" y="1013"/><use href="#u" x="1495" y="1014"/><use href="#u" x="1497" y="1014"/><use href="#u" x="1498" y="1014"/><use href="#u" x="1499" y="1015"/><use href="#u" x="1501" y="1014"/><use href="#u" x="1502" y="1015"/><use href="#u" x="1503" y="1015"/><use href="#u" x="1505" y="1015"/><use href="#u" x="1506" y="1014"/><use href="#u" x="1508" y="1015"/><use href="#u" x="1508" y="1017"/><use href="#u" x="1509" y="1018"/><use href="#u" x="1448" y="1019"/><use href="#u" x="1449" y="1020"/><use href="#u" x="1450" y="1021"/><use href="#u" x="1452" y="1021"/><use href="#u" x="1453" y="1021"/><use href="#u" x="1455" y="1021"/><use href="#u" x="1457" y="1021"/><use href="#u" x="1458" y="1021"/><use href="#u" x="1460" y="1021"/><use href="#u" x="1461" y="1021"/><use href="#u" x="1462" y="1020"/><use href="#u" x="1506" y="1018"/><use href="#u" x="1507" y="1019"/><use href="#u" x="1507" y="1020"/><use href="#u" x="1506" y="1020"/><use href="#u" x="1507" y="1021"/><use href="#u" x="1507" y="1022"/><use href="#u" x="1505" y="1021"/><use href="#u" x="1506" y="1022"/><use href="#u" x="1505" y="1023"/><use href="#u" x="1507" y="1024"/><use href="#u" x="1505" y="1024"/><use href="#u" x="1506" y="1026"/><use href="#u" x="1504" y="1025"/><use href="#u" x="1503" y="1025"/><use href="#u" x="1504" y="1027"/><use href="#u" x="1503" y="1026"/><use href="#u" x="1502" y="1026"/><use href="#u" x="1502" y="1027"/><use href="#u" x="1501" y="1027"/><use href="#u" x="1500" y="1027"/><use href="#u" x="1502" y="1029"/><use href="#u" x="1501" y="1030"/><use href="#u" x="1499" y="1028"/><use href="#u" x="1498" y="1028"/><use href="#u" x="1499" y="1030"/><use href="#u" x="1498" y="1030"/><use href="#u" x="1498" y="1031"/><use href="#u" x="1497" y="1031"/><use href="#u" x="1496" y="1031"/><use href="#u" x="1496" y="1032"/><use href="#u" x="1495" y="1032"/><use href="#u" x="1494" y="1031"/><use href="#u" x="1495" y="1033"/><use href="#u" x="1493" y="1032"/><use href="#u" x="1493" y="1033"/><use href="#u" x="1492" y="1034"/><use href="#u" x="1491" y="1032"/><use href="#u" x="1491" y="1034"/><use href="#u" x="1490" y="1034"/><use href="#u" x="1489" y="1033"/><use href="#u" x="1490" y="1035"/><use href="#u" x="1489" y="1035"/><use href="#u" x="1487" y="1034"/><use href="#u" x="1488" y="1035"/><use href="#u" x="1486" y="1034"/><use href="#u" x="1487" y="1036"/><use href="#u" x="1486" y="1036"/><use href="#u" x="1485" y="1035"/><use href="#u" x="1485" y="1036"/><use href="#u" x="1485" y="1037"/><use href="#u" x="1484" y="1038"/><use href="#u" x="1483" y="1037"/><use href="#u" x="1483" y="1038"/><use href="#u" x="1482" y="1036"/><use href="#u" x="1481" y="1036"/><use href="#u" x="1482" y="1039"/><use href="#u" x="1481" y="1039"/><use href="#u" x="1480" y="1037"/><use href="#u" x="1480" y="1038"/><use href="#u" x="1479" y="1038"/><use href="#u" x="1479" y="1039"/><use href="#u" x="1479" y="1040"/><use href="#u" x="1478" y="1040"/><use href="#u" x="1477" y="1038"/><use href="#u" x="1477" y="1040"/><use href="#u" x="1476" y="1040"/><use href="#u" x="1476" y="1041"/><use href="#u" x="1474" y="1039"/><use href="#u" x="1475" y="1042"/><use href="#u" x="1475" y="1043"/><use href="#u" x="1473" y="1040"/><use href="#u" x="1472" y="1040"/><use href="#u" x="1472" y="1042"/><use href="#u" x="1471" y="1041"/><use href="#u" x="1471" y="1043"/><use href="#u" x="1470" y="1042"/><use href="#u" x="1469" y="1042"/><use href="#u" x="1469" y="1043"/><use href="#u" x="1469" y="1044"/><use href="#u" x="1468" y="1044"/><use href="#u" x="1468" y="1045"/><use href="#u" x="1467" y="1044"/><use href="#u" x="1466" y="1045"/><use href="#u" x="1465" y="1044"/><use href="#u" x="1466" y="1046"/><use href="#u" x="1464" y="1044"/><use href="#u" x="1464" y="1045"/><use href="#u" x="1463" y="1044"/><use href="#u" x="1463" y="1045"/><use href="#u" x="1462" y="1045"/><use href="#u" x="1462" y="1046"/><use href="#u" x="1463" y="1048"/><use href="#u" x="1461" y="1046"/><use href="#u" x="1462" y="1048"/><use href="#u" x="1461" y="1048"/><use href="#u" x="1460" y="1047"/><use href="#u" x="1459" y="1048"/><use href="#u" x="1458" y="1046"/><use href="#u" x="1458" y="1048"/><use href="#u" x="1458" y="1049"/><use href="#u" x="1456" y="1048"/><use href="#u" x="1456" y="1049"/><use href="#u" x="1456" y="1050"/><use href="#u" x="1455" y="1050"/><use href="#u" x="1454" y="1049"/><use href="#u" x="1454" y="1051"/><use href="#u" x="1453" y="1049"/><use href="#u" x="1452" y="1049"/><use href="#u" x="1452" y="1050"/><use href="#u" x="1451" y="1050"/><use href="#u" x="1452" y="1053"/><use href="#u" x="1451" y="1051"/><use href="#u" x="1450" y="1051"/><use href="#u" x="1451" y="1053"/><use href="#u" x="1450" y="1053"/><use href="#u" x="1449" y="1053"/><use href="#u" x="1449" y="1052"/><use href="#u" x="1448" y="1053"/><use href="#u" x="1447" y="1052"/><use href="#u" x="1448" y="1055"/><use href="#u" x="1447" y="1055"/><use href="#u" x="1446" y="1055"/><use href="#u" x="1446" y="1056"/><use href="#u" x="1444" y="1053"/><use href="#u" x="1444" y="1054"/><use href="#u" x="1444" y="1056"/><use href="#u" x="1443" y="1055"/><use href="#u" x="1443" y="1056"/><use href="#u" x="1442" y="1056"/><use href="#u" x="1441" y="1056"/><use href="#u" x="1441" y="1057"/><use href="#u" x="1440" y="1058"/><use href="#u" x="1439" y="1057"/><use href="#u" x="1438" y="1057"/><use href="#u" x="1438" y="1058"/><use href="#u" x="1438" y="1059"/><use href="#u" x="1437" y="1059"/><use href="#u" x="1436" y="1059"/><use href="#u" x="1435" y="1058"/><use href="#u" x="1435" y="1060"/><use href="#u" x="1434" y="1059"/><use href="#u" x="1434" y="1060"/><use href="#u" x="1433" y="1061"/><use href="#u" x="1433" y="1060"/><use href="#u" x="1432" y="1060"/><use href="#u" x="1432" y="1061"/><use href="#u" x="1431" y="1060"/><use href="#u" x="1431" y="1061"/><use href="#u" x="1431" y="1062"/><use href="#u" x="1430" y="1061"/><use href="#u" x="1429" y="1061"/><use href="#u" x="1430" y="1063"/><use href="#u" x="1429" y="1062"/><use href="#u" x="1428" y="1063"/><use href="#u" x="1427" y="1061"/><use href="#u" x="1427" y="1063"/><use href="#u" x="1426" y="1062"/><use href="#u" x="1425" y="1062"/><use href="#u" x="1426" y="1064"/><use href="#u" x="1425" y="1064"/><use href="#u" x="1425" y="1065"/><use href="#u" x="1424" y="1063"/><use href="#u" x="1423" y="1064"/><use href="#u" x="1423" y="1063"/><use href="#u" x="1422" y="1064"/><use href="#u" x="1421" y="1064"/><use href="#u" x="1421" y="1065"/><use href="#u" x="1422" y="1067"/><use href="#u" x="1420" y="1066"/><use href="#u" x="1421" y="1068"/><use href="#u" x="1420" y="1067"/><use href="#u" x="1419" y="1066"/><use href="#u" x="1419" y="1068"/><use href="#u" x="1419" y="1069"/><use href="#u" x="1417" y="1067"/><use href="#u" x="1417" y="1069"/><use href="#u" x="1417" y="1070"/><use href="#u" x="1416" y="1069"/></g>
<rect x="390.5" y="198.5" width="267" height="142" fill="#fff" stroke="#000" stroke-width="1" shape-rendering="crispEdges"/>
<use href="#d" x="446" y="234"/><use href="#u" x="446" y="300"/>
<text transform="translate(497.0 256.6) scale(0.955 1)" font-size="43.0" text-anchor="start" y="0.0" stroke="#000" stroke-width="0.50" xml:space="preserve">descent</text>
<text transform="translate(497.5 324.1) scale(0.952 1)" font-size="43.0" text-anchor="start" y="0.0" stroke="#000" stroke-width="0.50" xml:space="preserve">ascent</text>
<text transform="translate(237.0 1136.0) scale(0.950 1)" font-size="28.0" text-anchor="end" y="0.0" stroke="#000" stroke-width="0.40" xml:space="preserve">13</text>
<text transform="translate(237.0 1033.0) scale(0.950 1)" font-size="28.0" text-anchor="end" y="0.0" stroke="#000" stroke-width="0.40" xml:space="preserve">14</text>
<text transform="translate(237.0 931.0) scale(0.950 1)" font-size="28.0" text-anchor="end" y="0.0" stroke="#000" stroke-width="0.40" xml:space="preserve">15</text>
<text transform="translate(237.0 829.0) scale(0.950 1)" font-size="28.0" text-anchor="end" y="0.0" stroke="#000" stroke-width="0.40" xml:space="preserve">16</text>
<text transform="translate(237.0 726.0) scale(0.950 1)" font-size="28.0" text-anchor="end" y="0.0" stroke="#000" stroke-width="0.40" xml:space="preserve">17</text>
<text transform="translate(237.0 624.0) scale(0.950 1)" font-size="28.0" text-anchor="end" y="0.0" stroke="#000" stroke-width="0.40" xml:space="preserve">18</text>
<text transform="translate(237.0 522.0) scale(0.950 1)" font-size="28.0" text-anchor="end" y="0.0" stroke="#000" stroke-width="0.40" xml:space="preserve">19</text>
<text transform="translate(237.0 419.0) scale(0.950 1)" font-size="28.0" text-anchor="end" y="0.0" stroke="#000" stroke-width="0.40" xml:space="preserve">20</text>
<text transform="translate(237.0 317.0) scale(0.950 1)" font-size="28.0" text-anchor="end" y="0.0" stroke="#000" stroke-width="0.40" xml:space="preserve">21</text>
<text transform="translate(237.0 215.0) scale(0.950 1)" font-size="28.0" text-anchor="end" y="0.0" stroke="#000" stroke-width="0.40" xml:space="preserve">22</text>
<text transform="translate(237.0 113.0) scale(0.950 1)" font-size="28.0" text-anchor="end" y="0.0" stroke="#000" stroke-width="0.40" xml:space="preserve">23</text>
<text transform="translate(245.5 1164.0) scale(0.950 1)" font-size="28.0" text-anchor="middle" y="0.0" stroke="#000" stroke-width="0.40" xml:space="preserve">37</text>
<text transform="translate(611.5 1164.0) scale(0.950 1)" font-size="28.0" text-anchor="middle" y="0.0" stroke="#000" stroke-width="0.40" xml:space="preserve">37.5</text>
<text transform="translate(977.5 1164.0) scale(0.950 1)" font-size="28.0" text-anchor="middle" y="0.0" stroke="#000" stroke-width="0.40" xml:space="preserve">38</text>
<text transform="translate(1343.5 1164.0) scale(0.950 1)" font-size="28.0" text-anchor="middle" y="0.0" stroke="#000" stroke-width="0.40" xml:space="preserve">38.5</text>
<text transform="translate(1710.5 1164.0) scale(0.950 1)" font-size="28.0" text-anchor="middle" y="0.0" stroke="#000" stroke-width="0.40" xml:space="preserve">39</text>
<text transform="translate(192.2 68.6) scale(0.920 1)" font-size="65.5" text-anchor="start" y="0.0" stroke="#000" stroke-width="0.60" xml:space="preserve">SG</text>
<text transform="translate(296.4 68.6) scale(0.920 1)" font-size="65.5" text-anchor="start" y="0.0" stroke="#000" stroke-width="0.60" xml:space="preserve">524</text>
<text transform="translate(452.6 68.6) scale(0.920 1)" font-size="65.5" text-anchor="start" y="0.0" stroke="#000" stroke-width="0.60" xml:space="preserve">REP14</text>
<text transform="translate(679.2 68.6) scale(0.920 1)" font-size="65.5" text-anchor="start" y="0.0" stroke="#000" stroke-width="0.60" xml:space="preserve">,</text>
<text transform="translate(713.0 68.6) scale(0.920 1)" font-size="65.5" text-anchor="start" y="0.0" stroke="#000" stroke-width="0.60" xml:space="preserve">dive</text>
<text transform="translate(844.6 68.6) scale(0.920 1)" font-size="65.5" text-anchor="start" y="0.0" stroke="#000" stroke-width="0.60" xml:space="preserve">167</text>
<text transform="translate(963.0 68.6) scale(0.920 1)" font-size="65.5" text-anchor="start" y="0.0" stroke="#000" stroke-width="0.60" xml:space="preserve">started</text>
<text transform="translate(1163.2 68.6) scale(0.920 1)" font-size="65.5" text-anchor="start" y="0.0" stroke="#000" stroke-width="0.60" xml:space="preserve">23-Jun-2014</text>
<text transform="translate(1525.6 68.6) scale(0.920 1)" font-size="65.5" text-anchor="start" y="0.0" stroke="#000" stroke-width="0.60" xml:space="preserve">07:52:53</text>
<text transform="translate(746.0 1220.6) scale(0.959 1)" font-size="52.5" text-anchor="start" y="0.0" stroke="#000" stroke-width="0.70" xml:space="preserve">Salinity (S [PSS-78])</text>
<text transform="translate(1146.3 1245.3) scale(0.972 1)" font-size="42.4" text-anchor="start" y="0.0" stroke="#000" stroke-width="0.60" xml:space="preserve">Serial #: 0155  CAL: 14-Mar-2010</text>
<text transform="translate(184.1 803.1) rotate(-90.0) scale(0.933 1)" font-size="52.5" text-anchor="start" y="0.0" stroke="#000" stroke-width="0.70" xml:space="preserve">Temperature (</text>
<text transform="translate(184.1 489.9) rotate(-90) scale(0.91 1)" font-size="48.6" y="-2.6" style="font-family:'Liberation Serif',serif">°</text>
<text transform="translate(184.1 472.3) rotate(-90.0) scale(0.920 1)" font-size="52.5" text-anchor="start" y="0.0" stroke="#000" stroke-width="0.70" xml:space="preserve">C)</text>
</svg></body></html>
